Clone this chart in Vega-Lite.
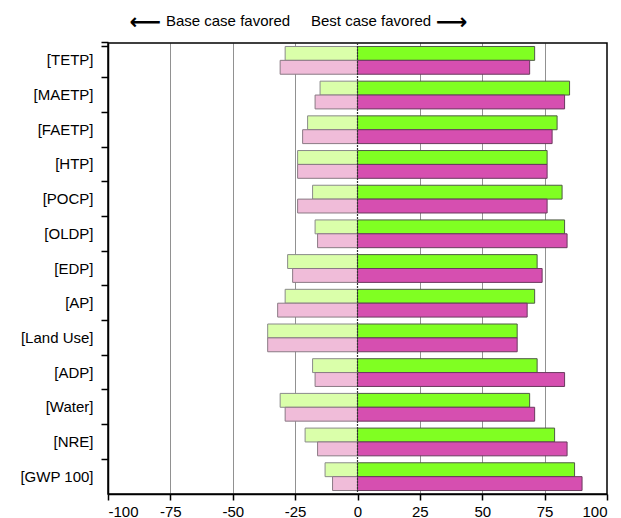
{
  "$schema": "https://vega.github.io/schema/vega-lite/v6.json",
  "autosize": {"type": "none"},
  "padding": {"left": 108, "top": 43, "right": 14, "bottom": 24},
  "width": 499,
  "height": 451,
  "background": "white",
  "title": {
    "text": "⟵\u2003\u2003\u2003\u2003\u2003\u2003\u2003\u2003\u2003\u2003\u2003\u2003\u2002⟶",
    "font": "DejaVu Sans",
    "fontSize": 22,
    "fontWeight": "bold",
    "color": "black",
    "subtitle": "Base case favored\u00a0\u00a0\u00a0\u00a0\u00a0Best case favored",
    "subtitleFont": "Liberation Sans",
    "subtitleFontSize": 15,
    "subtitleColor": "black",
    "subtitlePadding": -20,
    "anchor": "middle",
    "dx": -59,
    "offset": 2
  },
  "config": {
    "view": {"stroke": "black", "strokeWidth": 1.5},
    "axis": {
      "labelFont": "Liberation Sans",
      "labelFontSize": 15,
      "labelColor": "black",
      "domainColor": "black",
      "domainWidth": 1.5,
      "tickColor": "black",
      "tickWidth": 1.5,
      "title": null
    }
  },
  "data": {
    "values": [
      {"category": "[TETP]", "scenario": "A", "segment": "A base", "value": -29},
      {"category": "[TETP]", "scenario": "A", "segment": "A best", "value": 71},
      {"category": "[TETP]", "scenario": "B", "segment": "B base", "value": -31},
      {"category": "[TETP]", "scenario": "B", "segment": "B best", "value": 69},
      {"category": "[MAETP]", "scenario": "A", "segment": "A base", "value": -15},
      {"category": "[MAETP]", "scenario": "A", "segment": "A best", "value": 85},
      {"category": "[MAETP]", "scenario": "B", "segment": "B base", "value": -17},
      {"category": "[MAETP]", "scenario": "B", "segment": "B best", "value": 83},
      {"category": "[FAETP]", "scenario": "A", "segment": "A base", "value": -20},
      {"category": "[FAETP]", "scenario": "A", "segment": "A best", "value": 80},
      {"category": "[FAETP]", "scenario": "B", "segment": "B base", "value": -22},
      {"category": "[FAETP]", "scenario": "B", "segment": "B best", "value": 78},
      {"category": "[HTP]", "scenario": "A", "segment": "A base", "value": -24},
      {"category": "[HTP]", "scenario": "A", "segment": "A best", "value": 76},
      {"category": "[HTP]", "scenario": "B", "segment": "B base", "value": -24},
      {"category": "[HTP]", "scenario": "B", "segment": "B best", "value": 76},
      {"category": "[POCP]", "scenario": "A", "segment": "A base", "value": -18},
      {"category": "[POCP]", "scenario": "A", "segment": "A best", "value": 82},
      {"category": "[POCP]", "scenario": "B", "segment": "B base", "value": -24},
      {"category": "[POCP]", "scenario": "B", "segment": "B best", "value": 76},
      {"category": "[OLDP]", "scenario": "A", "segment": "A base", "value": -17},
      {"category": "[OLDP]", "scenario": "A", "segment": "A best", "value": 83},
      {"category": "[OLDP]", "scenario": "B", "segment": "B base", "value": -16},
      {"category": "[OLDP]", "scenario": "B", "segment": "B best", "value": 84},
      {"category": "[EDP]", "scenario": "A", "segment": "A base", "value": -28},
      {"category": "[EDP]", "scenario": "A", "segment": "A best", "value": 72},
      {"category": "[EDP]", "scenario": "B", "segment": "B base", "value": -26},
      {"category": "[EDP]", "scenario": "B", "segment": "B best", "value": 74},
      {"category": "[AP]", "scenario": "A", "segment": "A base", "value": -29},
      {"category": "[AP]", "scenario": "A", "segment": "A best", "value": 71},
      {"category": "[AP]", "scenario": "B", "segment": "B base", "value": -32},
      {"category": "[AP]", "scenario": "B", "segment": "B best", "value": 68},
      {"category": "[Land Use]", "scenario": "A", "segment": "A base", "value": -36},
      {"category": "[Land Use]", "scenario": "A", "segment": "A best", "value": 64},
      {"category": "[Land Use]", "scenario": "B", "segment": "B base", "value": -36},
      {"category": "[Land Use]", "scenario": "B", "segment": "B best", "value": 64},
      {"category": "[ADP]", "scenario": "A", "segment": "A base", "value": -18},
      {"category": "[ADP]", "scenario": "A", "segment": "A best", "value": 72},
      {"category": "[ADP]", "scenario": "B", "segment": "B base", "value": -17},
      {"category": "[ADP]", "scenario": "B", "segment": "B best", "value": 83},
      {"category": "[Water]", "scenario": "A", "segment": "A base", "value": -31},
      {"category": "[Water]", "scenario": "A", "segment": "A best", "value": 69},
      {"category": "[Water]", "scenario": "B", "segment": "B base", "value": -29},
      {"category": "[Water]", "scenario": "B", "segment": "B best", "value": 71},
      {"category": "[NRE]", "scenario": "A", "segment": "A base", "value": -21},
      {"category": "[NRE]", "scenario": "A", "segment": "A best", "value": 79},
      {"category": "[NRE]", "scenario": "B", "segment": "B base", "value": -16},
      {"category": "[NRE]", "scenario": "B", "segment": "B best", "value": 84},
      {"category": "[GWP 100]", "scenario": "A", "segment": "A base", "value": -13},
      {"category": "[GWP 100]", "scenario": "A", "segment": "A best", "value": 87},
      {"category": "[GWP 100]", "scenario": "B", "segment": "B base", "value": -10},
      {"category": "[GWP 100]", "scenario": "B", "segment": "B best", "value": 90}
    ]
  },
  "layer": [
    {
      "mark": {"type": "bar", "strokeWidth": 1, "orient": "horizontal"},
      "encoding": {
        "y": {
          "field": "category",
          "type": "nominal",
          "sort": null,
          "scale": {"paddingInner": 0.2, "paddingOuter": 0.1},
          "axis": {
            "ticks": true,
            "bandPosition": -0.125,
            "tickExtra": true,
            "tickSize": 7,
            "labelPadding": 8,
            "domain": true,
            "grid": false
          }
        },
        "yOffset": {
          "field": "scenario",
          "type": "nominal",
          "sort": ["A", "B"],
          "scale": {"paddingInner": 0, "paddingOuter": 0}
        },
        "x": {
          "field": "value",
          "type": "quantitative",
          "scale": {"domain": [-100, 100], "nice": false, "zero": false},
          "axis": {
            "values": [-100, -87.5, -75, -62.5, -50, -37.5, -25, -12.5, 0, 12.5, 25, 37.5, 50, 62.5, 75, 87.5, 100],
            "labelExpr": "datum.value % 25 === 0 ? replace(datum.label, '−', '-') : ''",
            "labelPadding": 4,
            "tickSize": {"condition": {"test": "datum.value % 25 === 0", "value": 6}, "value": 4},
            "grid": true,
            "gridColor": "#222",
            "gridDash": [1, 1],
            "gridWidth": 1,
            "gridOpacity": {"condition": {"test": "datum.value % 25 === 0 && abs(datum.value) < 100 && datum.value !== 0", "value": 1}, "value": 0}
          }
        },
        "color": {
          "field": "segment",
          "type": "nominal",
          "scale": {
            "domain": ["A base", "A best", "B base", "B best"],
            "range": ["#daffaa", "#80ff22", "#f0bcd9", "#d64fb0"]
          },
          "legend": null
        },
        "stroke": {
          "field": "segment",
          "type": "nominal",
          "scale": {
            "domain": ["A base", "A best", "B base", "B best"],
            "range": ["#8a8a8a", "#4f5a45", "#8a7a84", "#6a3a5e"]
          },
          "legend": null
        }
      }
    },
    {
      "data": {"values": [{"value": 0}]},
      "mark": {"type": "rule", "color": "#333", "strokeWidth": 1.2, "strokeDash": [2, 1]},
      "encoding": {
        "x": {"field": "value", "type": "quantitative"}
      }
    }
  ]
}
